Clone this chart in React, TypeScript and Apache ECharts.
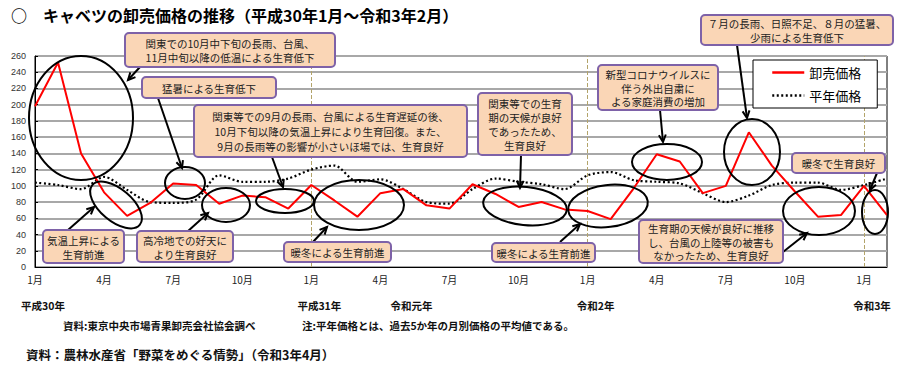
import React, { useEffect, useRef } from "react";
import * as echarts from "echarts";

// ---- data ----
const months = [
  "1月","2月","3月","4月","5月","6月","7月","8月","9月","10月","11月","12月",
  "1月","2月","3月","4月","5月","6月","7月","8月","9月","10月","11月","12月",
  "1月","2月","3月","4月","5月","6月","7月","8月","9月","10月","11月","12月",
  "1月","2月",
];
const yearRow = [
  "平成30年","","","","","","","","","","","",
  "平成31年","","","","令和元年","","","","","","","",
  "令和2年","","","","","","","","","","","",
  "令和3年","",
];
const wholesale = [
  198, 252, 140, 92, 63, 79, 103, 101, 78, 88, 86, 72,
  101, 82, 62, 91, 96, 76, 72, 102, 90, 74, 80, 71,
  69, 59, 97, 139, 130, 91, 100, 166, 125, 93, 62, 64,
  100, 64,
];
const normal = [
  104, 101, 96, 111, 95, 80, 79, 83, 113, 105, 105, 109,
  120, 125, 105, 108, 96, 80, 78, 96, 109, 105, 102, 96,
  113, 117, 107, 105, 103, 91, 80, 88, 101, 104, 104, 95,
  101, 109,
];
const yearStartIdx = [12, 24, 36];
const seriesNames = ["卸売価格", "平年価格"];

const titleText = "○　キャベツの卸売価格の推移（平成30年1月～令和3年2月）";
const note1 = "資料:東京中央市場青果卸売会社協会調べ";
const note2 = "注:平年価格とは、過去5か年の月別価格の平均値である。";
const source = "資料：農林水産省「野菜をめぐる情勢」（令和3年4月）";

const JP = '"Noto Sans CJK JP", sans-serif';

type Box = { x: number; y: number; w: number; h: number; t: string; lh?: number };
const boxes: Box[] = [
  { x: 125, y: 33, w: 210, h: 34, t: "関東での10月中下旬の長雨、台風、\n11月中旬以降の低温による生育低下" },
  { x: 142, y: 77, w: 134, h: 21, t: "猛暑による生育低下" },
  { x: 194, y: 105, w: 273, h: 52, t: "関東等での9月の長雨、台風による生育遅延の後、\n10月下旬以降の気温上昇により生育回復。また、\n9月の長雨等の影響が小さいほ場では、生育良好", lh: 15 },
  { x: 43, y: 230, w: 81, h: 33, t: "気温上昇による\n生育前進" },
  { x: 137, y: 231, w: 96, h: 31, t: "高冷地での好天に\nより生育良好" },
  { x: 284, y: 242, w: 107, h: 20, t: "暖冬による生育前進" },
  { x: 478, y: 93, w: 94, h: 62, t: "関東等での生育\n期の天候が良好\nであったため、\n生育良好" },
  { x: 492, y: 243, w: 103, h: 19, t: "暖冬による生育前進" },
  { x: 598, y: 65, w: 120, h: 45, t: "新型コロナウイルスに\n伴う外出自粛に\nよる家庭消費の増加", lh: 13.5 },
  { x: 701, y: 15, w: 192, h: 30, t: "７月の長雨、日照不足、８月の猛暑、\n少雨による生育低下" },
  { x: 792, y: 153, w: 93, h: 20, t: "暖冬で生育良好" },
  { x: 639, y: 220, w: 144, h: 43, t: "生育期の天候が良好に推移\nし、台風の上陸等の被害も\nなかったため、生育良好", lh: 13.5 },
];

const ellipses: [number, number, number, number, number][] = [
  [81, 118, 52, 62, 0],
  [185, 183, 20, 16, 0],
  [285, 201, 29, 12, 0],
  [116, 205, 31, 16, -0.7],
  [226, 205, 24, 17, 0],
  [359, 205, 45, 25, 0],
  [525, 206, 42, 19, -0.1],
  [608, 206, 40, 21, 0.12],
  [667, 162, 35, 18, 0],
  [752, 152, 28, 33, 0],
  [875, 212, 13, 22, 0],
  [819, 211, 36, 24, 0],
];

const arrows: [number, number, number, number][] = [
  [140, 67, 128, 80],
  [158, 98, 182, 168],
  [272, 157, 283, 187],
  [68, 230, 94, 207],
  [187, 232, 208, 213],
  [312, 243, 327, 227],
  [521, 155, 520, 188],
  [560, 242, 580, 224],
  [660, 110, 663, 142],
  [737, 45, 747, 118],
  [877, 173, 870, 190],
  [783, 252, 807, 233],
];

function buildGraphics() {
  const els: any[] = [];
  ellipses.forEach(([cx, cy, rx, ry, rot]) => {
    els.push({
      type: "ellipse",
      x: cx,
      y: cy,
      rotation: rot,
      shape: { cx: 0, cy: 0, rx, ry },
      style: { fill: "none", stroke: "#000", lineWidth: 2 },
      z: 50,
      silent: true,
    });
  });
  arrows.forEach(([x1, y1, x2, y2]) => {
    const ang = Math.atan2(y2 - y1, x2 - x1);
    const L = 8;
    const a = 0.45;
    const p1 = [x2 - L * Math.cos(ang - a), y2 - L * Math.sin(ang - a)];
    const p2 = [x2 - L * Math.cos(ang + a), y2 - L * Math.sin(ang + a)];
    els.push({
      type: "line",
      shape: { x1, y1, x2, y2 },
      style: { stroke: "#000", lineWidth: 2 },
      z: 55,
      silent: true,
    });
    els.push({
      type: "polyline",
      shape: { points: [p1, [x2, y2], p2] },
      style: { stroke: "#000", lineWidth: 2, fill: "none" },
      z: 55,
      silent: true,
    });
  });
  boxes.forEach((b) => {
    els.push({
      type: "rect",
      shape: { x: b.x, y: b.y, width: b.w, height: b.h, r: 4 },
      style: { fill: "#FAD6B6", stroke: "#7E62A8", lineWidth: 2 },
      z: 60,
      silent: true,
    });
    els.push({
      type: "text",
      x: b.x + b.w / 2,
      y: b.y + b.h / 2 + 0.5,
      style: {
        text: b.t,
        fill: "#222",
        fontSize: 10.5,
        fontFamily: JP,
        align: "center",
        verticalAlign: "middle",
        lineHeight: b.lh ?? 14,
      },
      z: 61,
      silent: true,
    });
  });
  els.push({
    type: "text",
    x: 63,
    y: 325,
    style: { text: note1, fill: "#111", fontSize: 10.5, fontWeight: "bold", fontFamily: JP, verticalAlign: "middle" },
  });
  els.push({
    type: "text",
    x: 302,
    y: 325,
    style: { text: note2, fill: "#111", fontSize: 10.5, fontWeight: "bold", fontFamily: JP, verticalAlign: "middle" },
  });
  els.push({
    type: "text",
    x: 26,
    y: 354,
    style: { text: source, fill: "#111", fontSize: 12.5, fontWeight: "bold", fontFamily: JP, verticalAlign: "middle" },
  });
  return els;
}

export default function App() {
  const ref = useRef<HTMLDivElement>(null);
  useEffect(() => {
    document.body.style.margin = "0";
    if (!ref.current) return;
    const chart = echarts.init(ref.current, undefined, { renderer: "svg" });
    chart.setOption({
      animation: false,
      backgroundColor: "#fff",
      title: {
        text: titleText,
        left: 6,
        top: 2,
        textStyle: { fontSize: 16, fontWeight: "bold", color: "#000", fontFamily: JP },
      },
      grid: {
        left: 35,
        top: 56,
        right: 13,
        bottom: 100,
        show: true,
        borderColor: "#000",
        borderWidth: 1,
        backgroundColor: "transparent",
      },
      legend: {
        orient: "vertical",
        left: 753,
        top: 60,
        width: 124,
        data: seriesNames,
        backgroundColor: "#fff",
        borderColor: "#000",
        borderWidth: 1,
        padding: [6, 16, 6, 18],
        itemGap: 10,
        itemWidth: 32,
        itemHeight: 14,
        itemStyle: { opacity: 0 },
        lineStyle: { width: 2.5 },
        textStyle: { fontSize: 13, color: "#000", fontFamily: JP },
        z: 70,
      },
      xAxis: [
        {
          type: "category",
          data: months,
          boundaryGap: false,
          axisLine: { lineStyle: { color: "#000", width: 1 } },
          axisTick: { show: false },
          axisLabel: {
            interval: (i: number) => i % 3 === 0,
            fontSize: 10,
            color: "#222",
            margin: 7,
            fontFamily: JP,
          },
          splitLine: { show: false },
        },
        {
          type: "category",
          data: yearRow,
          position: "bottom",
          offset: 25,
          boundaryGap: false,
          axisLine: { show: false },
          axisTick: { show: false },
          axisLabel: {
            interval: 0,
            fontSize: 10.5,
            fontWeight: "bold",
            color: "#111",
            fontFamily: JP,
            padding: [0, 0, 0, 16],
          },
          splitLine: { show: false },
        },
      ],
      yAxis: {
        type: "value",
        min: 0,
        max: 260,
        interval: 20,
        axisLine: { show: true, lineStyle: { color: "#000" } },
        axisTick: { show: true, inside: true, length: 3, lineStyle: { color: "#000" } },
        axisLabel: { fontSize: 9, color: "#333", margin: 9, fontFamily: "Liberation Sans, Arial" },
        splitLine: { lineStyle: { color: "#A8A8A8", width: 2 } },
      },
      series: [
        {
          name: seriesNames[0],
          type: "line",
          data: wholesale,
          symbol: "none",
          lineStyle: { color: "#FF0000", width: 2 },
          itemStyle: { color: "#FF0000" },
          z: 10,
          markLine: {
            silent: true,
            symbol: ["none", "none"],
            label: { show: false },
            lineStyle: { type: "dashed", color: "#B3A46A", width: 1 },
            data: yearStartIdx.map((i) => ({ xAxis: i })),
          },
        },
        {
          name: seriesNames[1],
          type: "line",
          data: normal,
          symbol: "none",
          smooth: 0.3,
          lineStyle: { color: "#000", width: 2.2, type: [2, 2.5] },
          itemStyle: { color: "#000" },
          z: 9,
        },
      ],
      graphic: buildGraphics(),
    });
    return () => chart.dispose();
  }, []);
  return <div ref={ref} style={{ width: 900, height: 367, position: "absolute", left: 0, top: 0 }} />;
}
